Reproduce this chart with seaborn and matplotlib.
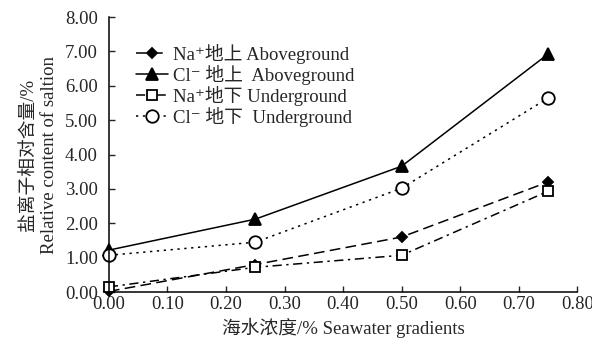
import numpy as np
import pandas as pd
import matplotlib
matplotlib.use('Agg')
import matplotlib.pyplot as plt
import seaborn as sns

# data
gradients = [0.00, 0.25, 0.50, 0.75]
na_above = [0.02, 0.80, 1.60, 3.20]
cl_above = [1.22, 2.12, 3.66, 6.92]
na_below = [0.15, 0.72, 1.07, 2.93]
cl_below = [1.07, 1.45, 3.02, 5.64]

labels = [
    'Na⁺地上 Aboveground',
    'Cl⁻ 地上  Aboveground',
    'Na⁺地下 Underground',
    'Cl⁻ 地下  Underground',
]
series = [na_above, cl_above, na_below, cl_below]

sns.set_style('white')
plt.rcParams['font.family'] = ['Liberation Serif', 'Noto Sans CJK SC', 'DejaVu Serif']

fig = plt.figure(figsize=(5.92, 3.40), dpi=100)
ax = fig.add_axes([0.184, 0.141, 0.791, 0.809])

styles = [
    dict(marker='D', ms=5.5, mfc='black', dashes=(7, 3.5)),
    dict(marker='^', ms=8, mfc='black', dashes=None),
    dict(marker='s', ms=6.5, mfc='white', dashes=(6, 3, 1.5, 3)),
    dict(marker='o', ms=9, mfc='white', dashes=(1.5, 3)),
]

for vals, lab, st in zip(series, labels, styles):
    df = pd.DataFrame({'x': gradients, 'y': vals})
    sns.lineplot(data=df, x='x', y='y', ax=ax, color='black', lw=1.1,
                 marker=st['marker'], markersize=st['ms'],
                 markerfacecolor=st['mfc'], markeredgecolor='black',
                 markeredgewidth=1.3, label=lab)
    l = ax.get_lines()[-1]
    if st['dashes'] is not None:
        l.set_dashes(st['dashes'])
    l.set_clip_on(False)

ax.set_xlim(0, 0.8)
ax.set_ylim(0, 8)
ax.set_xticks(np.arange(0, 0.81, 0.1))
ax.set_yticks(np.arange(0, 8.1, 1))
ax.xaxis.set_major_formatter(matplotlib.ticker.FormatStrFormatter('%.2f'))
ax.yaxis.set_major_formatter(matplotlib.ticker.FormatStrFormatter('%.2f'))
ax.tick_params(axis='x', direction='in', length=4, width=1, labelsize=13.5, pad=3, bottom=True)
ax.tick_params(axis='y', direction='in', length=4, width=1, labelsize=13.5, pad=8, left=True)

for s in ['top', 'right']:
    ax.spines[s].set_visible(False)
for s in ['left', 'bottom']:
    ax.spines[s].set_color('black')
    ax.spines[s].set_linewidth(1.1)

ax.set_xlabel('海水浓度/% Seawater gradients', fontsize=13.5, labelpad=3)
ax.set_ylabel('盐离子相对含量/%\nRelative content of saltion', fontsize=13.5,
              labelpad=5, linespacing=1.3)

ax.legend(loc='upper left', bbox_to_anchor=(0.03, 0.95), frameon=False,
          fontsize=13.5, handlelength=1.7, handletextpad=0.25, labelspacing=0.05,
          borderaxespad=0.3)

fig.savefig('out.png', dpi=100)
